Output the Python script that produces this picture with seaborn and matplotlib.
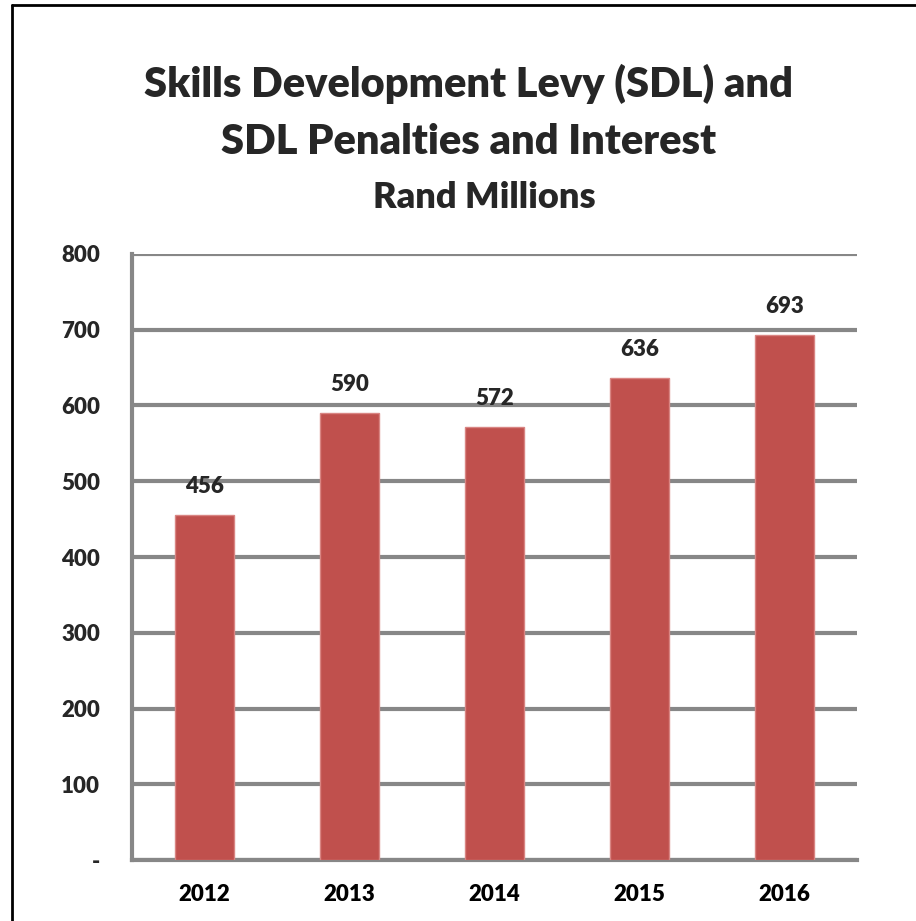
import matplotlib
matplotlib.use("Agg")
import matplotlib.pyplot as plt
from matplotlib.lines import Line2D
from matplotlib.ticker import FixedLocator, FuncFormatter
import seaborn as sns
import pandas as pd

years = ["2012", "2013", "2014", "2015", "2016"]
levy = [456, 590, 572, 636, 693]
y_ticks = [0, 100, 200, 300, 400, 500, 600, 700, 800]

sns.set_style("white")
plt.rcParams["font.family"] = ["Lato", "DejaVu Sans"]

BAR = "#C0504D"
GRID = "#878787"

fig = plt.figure(figsize=(9.16, 9.21), dpi=100)
W, H = 916, 921
ax = fig.add_axes([132 / W, (H - 860) / H, (857 - 132) / W, (860 - 254) / H])

df = pd.DataFrame({"year": years, "value": levy})
sns.barplot(data=df, x="year", y="value", color=BAR, width=0.41,
            saturation=1, edgecolor="#D98583", linewidth=1, ax=ax, zorder=3)

ax.set_ylim(0, 800)
ax.set_xlim(-0.5, len(years) - 0.5)
ax.set_xlabel("")
ax.set_ylabel("")

ax.yaxis.set_major_locator(FixedLocator(y_ticks))
ax.yaxis.set_major_formatter(FuncFormatter(lambda v, p: "-" if v == 0 else f"{int(v)}"))
ax.grid(axis="y", color=GRID, linewidth=3, zorder=1)
ax.set_axisbelow(True)

# category boundaries get the visible tick marks on the x axis
ax.set_xticks([i - 0.5 for i in range(len(years) + 1)], minor=True)
ax.tick_params(axis="x", which="major", length=0, pad=17,
               labelsize=16, labelcolor="black")
ax.tick_params(axis="x", which="minor", length=10, width=3, color=GRID, direction="out")
ax.tick_params(axis="y", which="major", length=9, width=3, color=GRID,
               direction="out", pad=14, labelsize=16)
for lab in ax.get_xticklabels() + ax.get_yticklabels():
    lab.set_fontweight("heavy")

for side in ["top", "right"]:
    ax.spines[side].set_visible(False)
for side in ["left", "bottom"]:
    ax.spines[side].set_color(GRID)
    ax.spines[side].set_linewidth(3)

for i, v in enumerate(levy):
    ax.annotate(f"{v}", (i, v), xytext=(0, 13), textcoords="offset points",
                ha="center", va="bottom", fontsize=16, fontweight="heavy")

fig.text(469 / W, 1 - 84 / H, "Skills Development Levy (SDL) and",
         ha="center", va="center", fontsize=30, fontweight="heavy")
fig.text(469 / W, 1 - 142 / H, "SDL Penalties and Interest",
         ha="center", va="center", fontsize=30, fontweight="heavy")
fig.text(484 / W, 1 - 197 / H, "Rand Millions",
         ha="center", va="center", fontsize=26, fontweight="heavy")

# outer frame: left and top edges
fig.add_artist(Line2D([12 / W, 12 / W], [0, 1 - 5 / H], transform=fig.transFigure,
                      color="black", linewidth=2))
fig.add_artist(Line2D([12 / W, 1], [1 - 5 / H, 1 - 5 / H], transform=fig.transFigure,
                      color="black", linewidth=2))

fig.savefig("out.png", dpi=100)
